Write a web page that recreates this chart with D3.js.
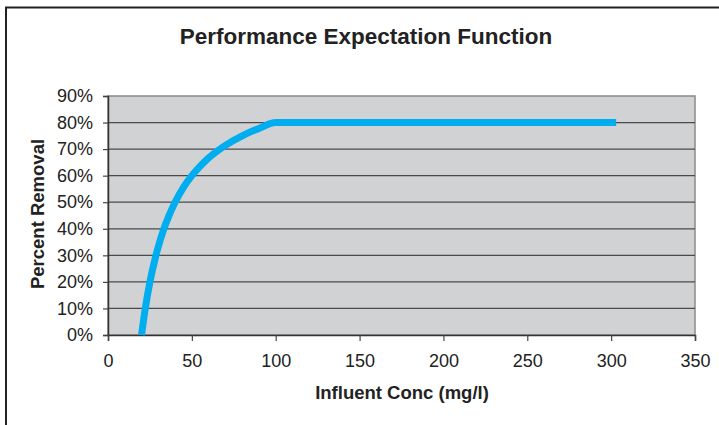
<!DOCTYPE html>
<html>
<head>
<meta charset="utf-8">
<script src="https://cdn.jsdelivr.net/npm/d3@7"></script>
<style>
  html, body { margin: 0; padding: 0; background: #fff; }
  svg { display: block; }
</style>
</head>
<body>
<div id="chart"></div>
<script>
(function() {

  'use strict'

  // influent concentration (mg/l) and percent removal
  var conc = [20, 22, 25, 28, 30, 33, 36, 40, 45, 50, 55, 60, 65, 70, 80, 90, 100, 303];
  var removal = [0, 0.09, 0.2, 0.285, 0.333, 0.394, 0.444, 0.5, 0.556, 0.6, 0.636, 0.667, 0.692, 0.714, 0.75, 0.778, 0.8, 0.8];

  var xTicks = [0, 50, 100, 150, 200, 250, 300, 350];
  var yTicks = [0, 0.1, 0.2, 0.3, 0.4, 0.5, 0.6, 0.7, 0.8, 0.9];

  var width = 719, height = 425;
  var plot = { left: 108, right: 695, top: 96, bottom: 335 };
  var font = '"Liberation Sans", Arial, sans-serif';

  var svg = d3.select('#chart').append('svg')
    .attr('width', width)
    .attr('height', height);

  // outer frame (top and left edges only)
  svg.append('path')
    .attr('d', 'M6,' + height + 'V7.5H' + width)
    .attr('fill', 'none')
    .attr('stroke', '#222')
    .attr('stroke-width', 2);

  var x = d3.scaleLinear().domain([0, 350]).range([plot.left, plot.right]);
  var y = d3.scaleLinear().domain([0, 0.9]).range([plot.bottom, plot.top]);

  svg.append('rect')
    .attr('x', plot.left)
    .attr('y', plot.top)
    .attr('width', plot.right - plot.left)
    .attr('height', plot.bottom - plot.top)
    .attr('fill', '#d1d2d4')
    .attr('stroke', '#8a8a8a')
    .attr('stroke-width', 1.5);

  // horizontal gridlines
  svg.append('g')
    .selectAll('line')
    .data(yTicks.slice(1, -1))
    .enter().append('line')
    .attr('x1', plot.left)
    .attr('x2', plot.right)
    .attr('y1', function(d) { return y(d); })
    .attr('y2', function(d) { return y(d); })
    .attr('stroke', '#4a4a4a')
    .attr('stroke-width', 1.2);

  var yAxis = svg.append('g')
    .attr('transform', 'translate(' + plot.left + ',0)')
    .call(d3.axisLeft(y).tickValues(yTicks).tickSize(5).tickPadding(10).tickFormat(d3.format('.0%')));

  var xAxis = svg.append('g')
    .attr('transform', 'translate(0,' + plot.bottom + ')')
    .call(d3.axisBottom(x).tickValues(xTicks).tickSize(6).tickPadding(13));

  [yAxis, xAxis].forEach(function(ax) {
    ax.select('.domain').attr('stroke', '#333').attr('stroke-width', 1.5);
    ax.selectAll('.tick line').attr('stroke', '#444').attr('stroke-width', 1.2);
    ax.selectAll('.tick text')
      .attr('fill', '#222')
      .attr('font-family', font)
      .attr('font-size', '18px');
  });

  var line = d3.line()
    .x(function(d) { return x(d[0]); })
    .y(function(d) { return y(d[1]); })
    .curve(d3.curveMonotoneX);

  svg.append('path')
    .datum(d3.zip(conc, removal))
    .attr('d', line)
    .attr('fill', 'none')
    .attr('stroke', '#00aeef')
    .attr('stroke-width', 7);

  svg.append('text')
    .attr('x', 366)
    .attr('y', 44)
    .attr('text-anchor', 'middle')
    .attr('font-family', font)
    .attr('font-weight', 'bold')
    .attr('font-size', '22.5px')
    .attr('fill', '#222')
    .text('Performance Expectation Function');

  svg.append('text')
    .attr('x', 402)
    .attr('y', 399)
    .attr('text-anchor', 'middle')
    .attr('font-family', font)
    .attr('font-weight', 'bold')
    .attr('font-size', '18.5px')
    .attr('fill', '#222')
    .text('Influent Conc (mg/l)');

  svg.append('text')
    .attr('transform', 'translate(44,214) rotate(-90)')
    .attr('text-anchor', 'middle')
    .attr('font-family', font)
    .attr('font-weight', 'bold')
    .attr('font-size', '18.5px')
    .attr('fill', '#222')
    .text('Percent Removal');

})();
</script>
</body>
</html>
